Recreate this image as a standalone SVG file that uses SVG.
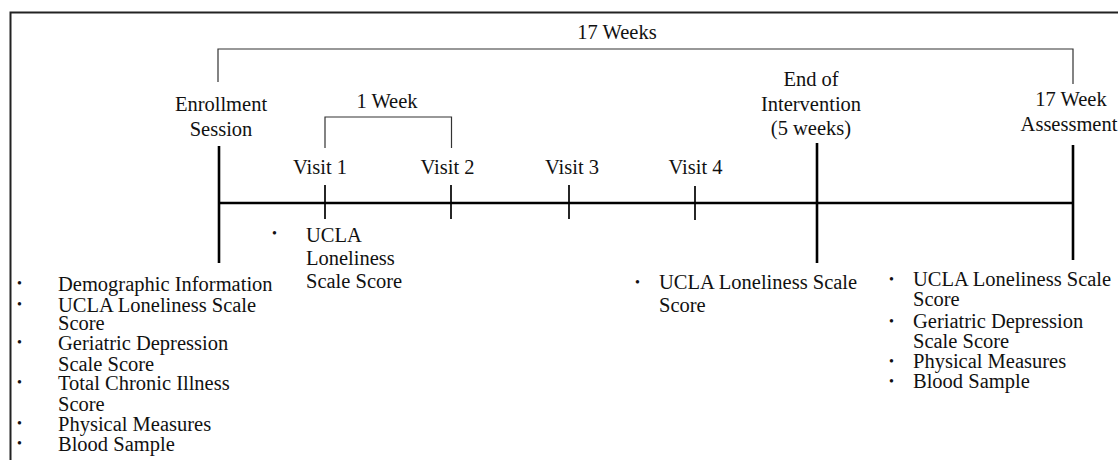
<svg xmlns="http://www.w3.org/2000/svg" width="1118" height="460" viewBox="0 0 1118 460">
<style>
text{font-family:"Liberation Serif","Times New Roman",serif;font-size:20.5px;fill:#111}
.c{text-anchor:middle}
.b{font-size:14px}
.thin{stroke:#333;stroke-width:1.2;fill:none}
.major{stroke:#000;stroke-width:2.6;fill:none}
.tick{stroke:#000;stroke-width:1.7;fill:none}
.axis{stroke:#000;stroke-width:2.4;fill:none}
</style>
<rect x="10.5" y="12.5" width="1120" height="460" fill="#fff" stroke="#222" stroke-width="2"/>
<g id="connectors">
<line class="axis" x1="219" y1="203" x2="1073" y2="203"/>
<polyline class="thin" points="218,82 218,49 1073,49 1073,84"/>
<polyline class="thin" points="325,148 325,117 451.5,117 451.5,148"/>
<text class="c" x="617" y="39">17 Weeks</text>
<text class="c" x="387" y="108">1 Week</text>
</g>
<g id="enrollment">
<text class="c" x="221" y="111">Enrollment</text>
<text class="c" x="221" y="136">Session</text>
<line class="major" x1="219" y1="146" x2="219" y2="263"/>
<text class="b" x="17" y="288">•</text>
<text x="58" y="291">Demographic Information</text>
<text class="b" x="17" y="309">•</text>
<text x="58" y="312">UCLA Loneliness Scale</text>
<text x="58" y="330">Score</text>
<text class="b" x="17" y="347">•</text>
<text x="58" y="350">Geriatric Depression</text>
<text x="58" y="371">Scale Score</text>
<text class="b" x="17" y="387">•</text>
<text x="58" y="390">Total Chronic Illness</text>
<text x="58" y="411">Score</text>
<text class="b" x="17" y="428">•</text>
<text x="58" y="431">Physical Measures</text>
<text class="b" x="17" y="448">•</text>
<text x="58" y="451">Blood Sample</text>
</g>
<g id="visit1">
<text class="c" x="320" y="174">Visit 1</text>
<line class="tick" x1="325" y1="185" x2="325" y2="219"/>
<text class="b" x="272" y="238">•</text>
<text x="306" y="242">UCLA</text>
<text x="306" y="265">Loneliness</text>
<text x="306" y="288">Scale Score</text>
</g>
<g id="visit2">
<text class="c" x="447.5" y="174">Visit 2</text>
<line class="tick" x1="451" y1="185" x2="451" y2="219"/>
</g>
<g id="visit3">
<text class="c" x="572" y="174">Visit 3</text>
<line class="tick" x1="569" y1="185" x2="569" y2="219"/>
</g>
<g id="visit4">
<text class="c" x="695.5" y="174">Visit 4</text>
<line class="tick" x1="695" y1="186" x2="695" y2="220"/>
</g>
<g id="end-of-intervention">
<text class="c" x="811" y="86">End of</text>
<text class="c" x="811" y="111">Intervention</text>
<text class="c" x="811" y="135">(5 weeks)</text>
<line class="major" x1="817" y1="143" x2="817" y2="263"/>
<text class="b" x="635" y="287">•</text>
<text x="659" y="289">UCLA Loneliness Scale</text>
<text x="659" y="312">Score</text>
</g>
<g id="week17-assessment">
<text class="c" x="1071" y="106">17 Week</text>
<text class="c" x="1069" y="131">Assessment</text>
<line class="major" x1="1073" y1="145" x2="1073" y2="260"/>
<text class="b" x="889" y="284">•</text>
<text x="913" y="286">UCLA Loneliness Scale</text>
<text x="913" y="306">Score</text>
<text class="b" x="889" y="326">•</text>
<text x="913" y="328">Geriatric Depression</text>
<text x="913" y="348">Scale Score</text>
<text class="b" x="889" y="366">•</text>
<text x="913" y="368">Physical Measures</text>
<text class="b" x="889" y="386">•</text>
<text x="913" y="388">Blood Sample</text>
</g>
</svg>
